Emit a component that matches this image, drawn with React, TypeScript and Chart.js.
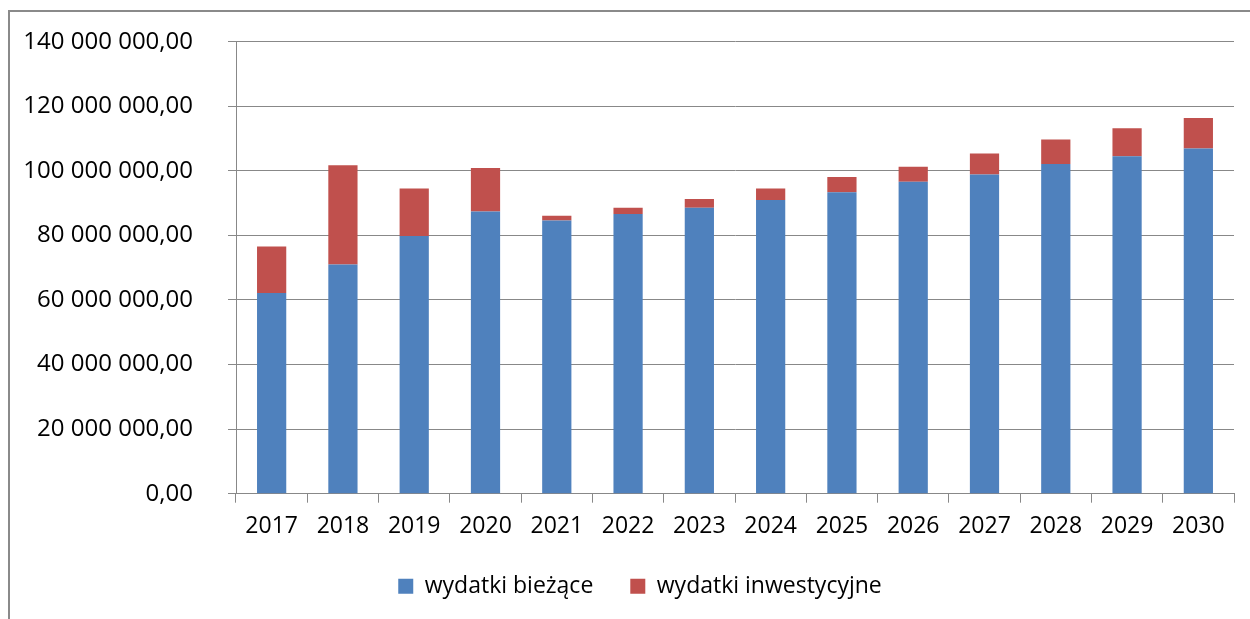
import React, { useEffect, useRef } from "react";
import { Chart, registerables } from "chart.js";

Chart.register(...registerables);

const years = ["2017", "2018", "2019", "2020", "2021", "2022", "2023", "2024", "2025", "2026", "2027", "2028", "2029", "2030"];
const currentSpending = [62200000, 71000000, 79800000, 87400000, 84600000, 86600000, 88600000, 91000000, 93400000, 96600000, 98900000, 102100000, 104500000, 106900000];
const investmentSpending = [14400000, 30700000, 14700000, 13500000, 1500000, 2000000, 2700000, 3500000, 4700000, 4700000, 6500000, 7600000, 8700000, 9500000];
const seriesNames = ["wydatki bieżące", "wydatki inwestycyjne"];
const yMax = 140000000;
const yStep = 20000000;

const FONT = "'Open Sans', 'Liberation Sans', sans-serif";
const GRID = "#888888";

function fmt(v: number): string {
  const [i, d] = v.toFixed(2).split(".");
  return i.replace(/\B(?=(\d{3})+(?!\d))/g, " ") + "," + d;
}

const legendShift = {
  id: "legendShift",
  afterLayout(chart: any) {
    if (chart.legend) {
      chart.legend.left += 13;
      chart.legend.right += 13;
    }
  },
};

export default function App() {
  const ref = useRef<HTMLCanvasElement | null>(null);
  useEffect(() => {
    if (!ref.current) return;
    const chart = new Chart(ref.current, {
      type: "bar",
      data: {
        labels: years,
        datasets: [
          { label: seriesNames[0], data: currentSpending, backgroundColor: "#4F81BD", borderWidth: 0, barPercentage: 0.41, categoryPercentage: 1 },
          { label: seriesNames[1], data: investmentSpending, backgroundColor: "#C0504D", borderWidth: 0, barPercentage: 0.41, categoryPercentage: 1 },
        ],
      },
      plugins: [legendShift],
      options: {
        responsive: false,
        animation: false,
        layout: { padding: { left: 20, right: 16, top: 41.7, bottom: 11.3 } },
        plugins: {
          tooltip: { enabled: false },
          legend: {
            position: "bottom",
            labels: {
              boxWidth: 15,
              boxHeight: 15,
              padding: 37,
              color: "#000000",
              font: { family: FONT, size: 23 },
            },
          },
        },
        scales: {
          x: {
            stacked: true,
            afterFit: (s: any) => { s.height = 44; },
            grid: { display: true, drawOnChartArea: false, drawTicks: true, tickLength: 9, color: GRID, offset: true },
            border: { display: true, color: GRID, width: 1 },
            ticks: { color: "#000000", font: { family: FONT, size: 23 }, padding: 10, maxRotation: 0 },
          },
          y: {
            stacked: true,
            min: 0,
            max: yMax,
            afterFit: (s: any) => { s.width = 216; s.paddingTop = 0; s.paddingBottom = 0; },
            grid: { color: GRID, tickLength: 8, drawTicks: true },
            border: { display: true, color: GRID, width: 1 },
            ticks: { stepSize: yStep, color: "#000000", font: { family: FONT, size: 24 }, padding: 35, callback: (v: any) => fmt(Number(v)) },
          },
        },
      },
    });
    return () => chart.destroy();
  }, []);
  return (
    <>
      <div style={{ position: "absolute", left: 8, top: 10, width: 1242, height: 609, boxSizing: "border-box", borderLeft: "2px solid #8a8a8a", borderTop: "2px solid #8a8a8a" }} />
      <canvas ref={ref} width={1250} height={619} style={{ position: "absolute", left: 0, top: 0, width: 1250, height: 619 }} />
    </>
  );
}
